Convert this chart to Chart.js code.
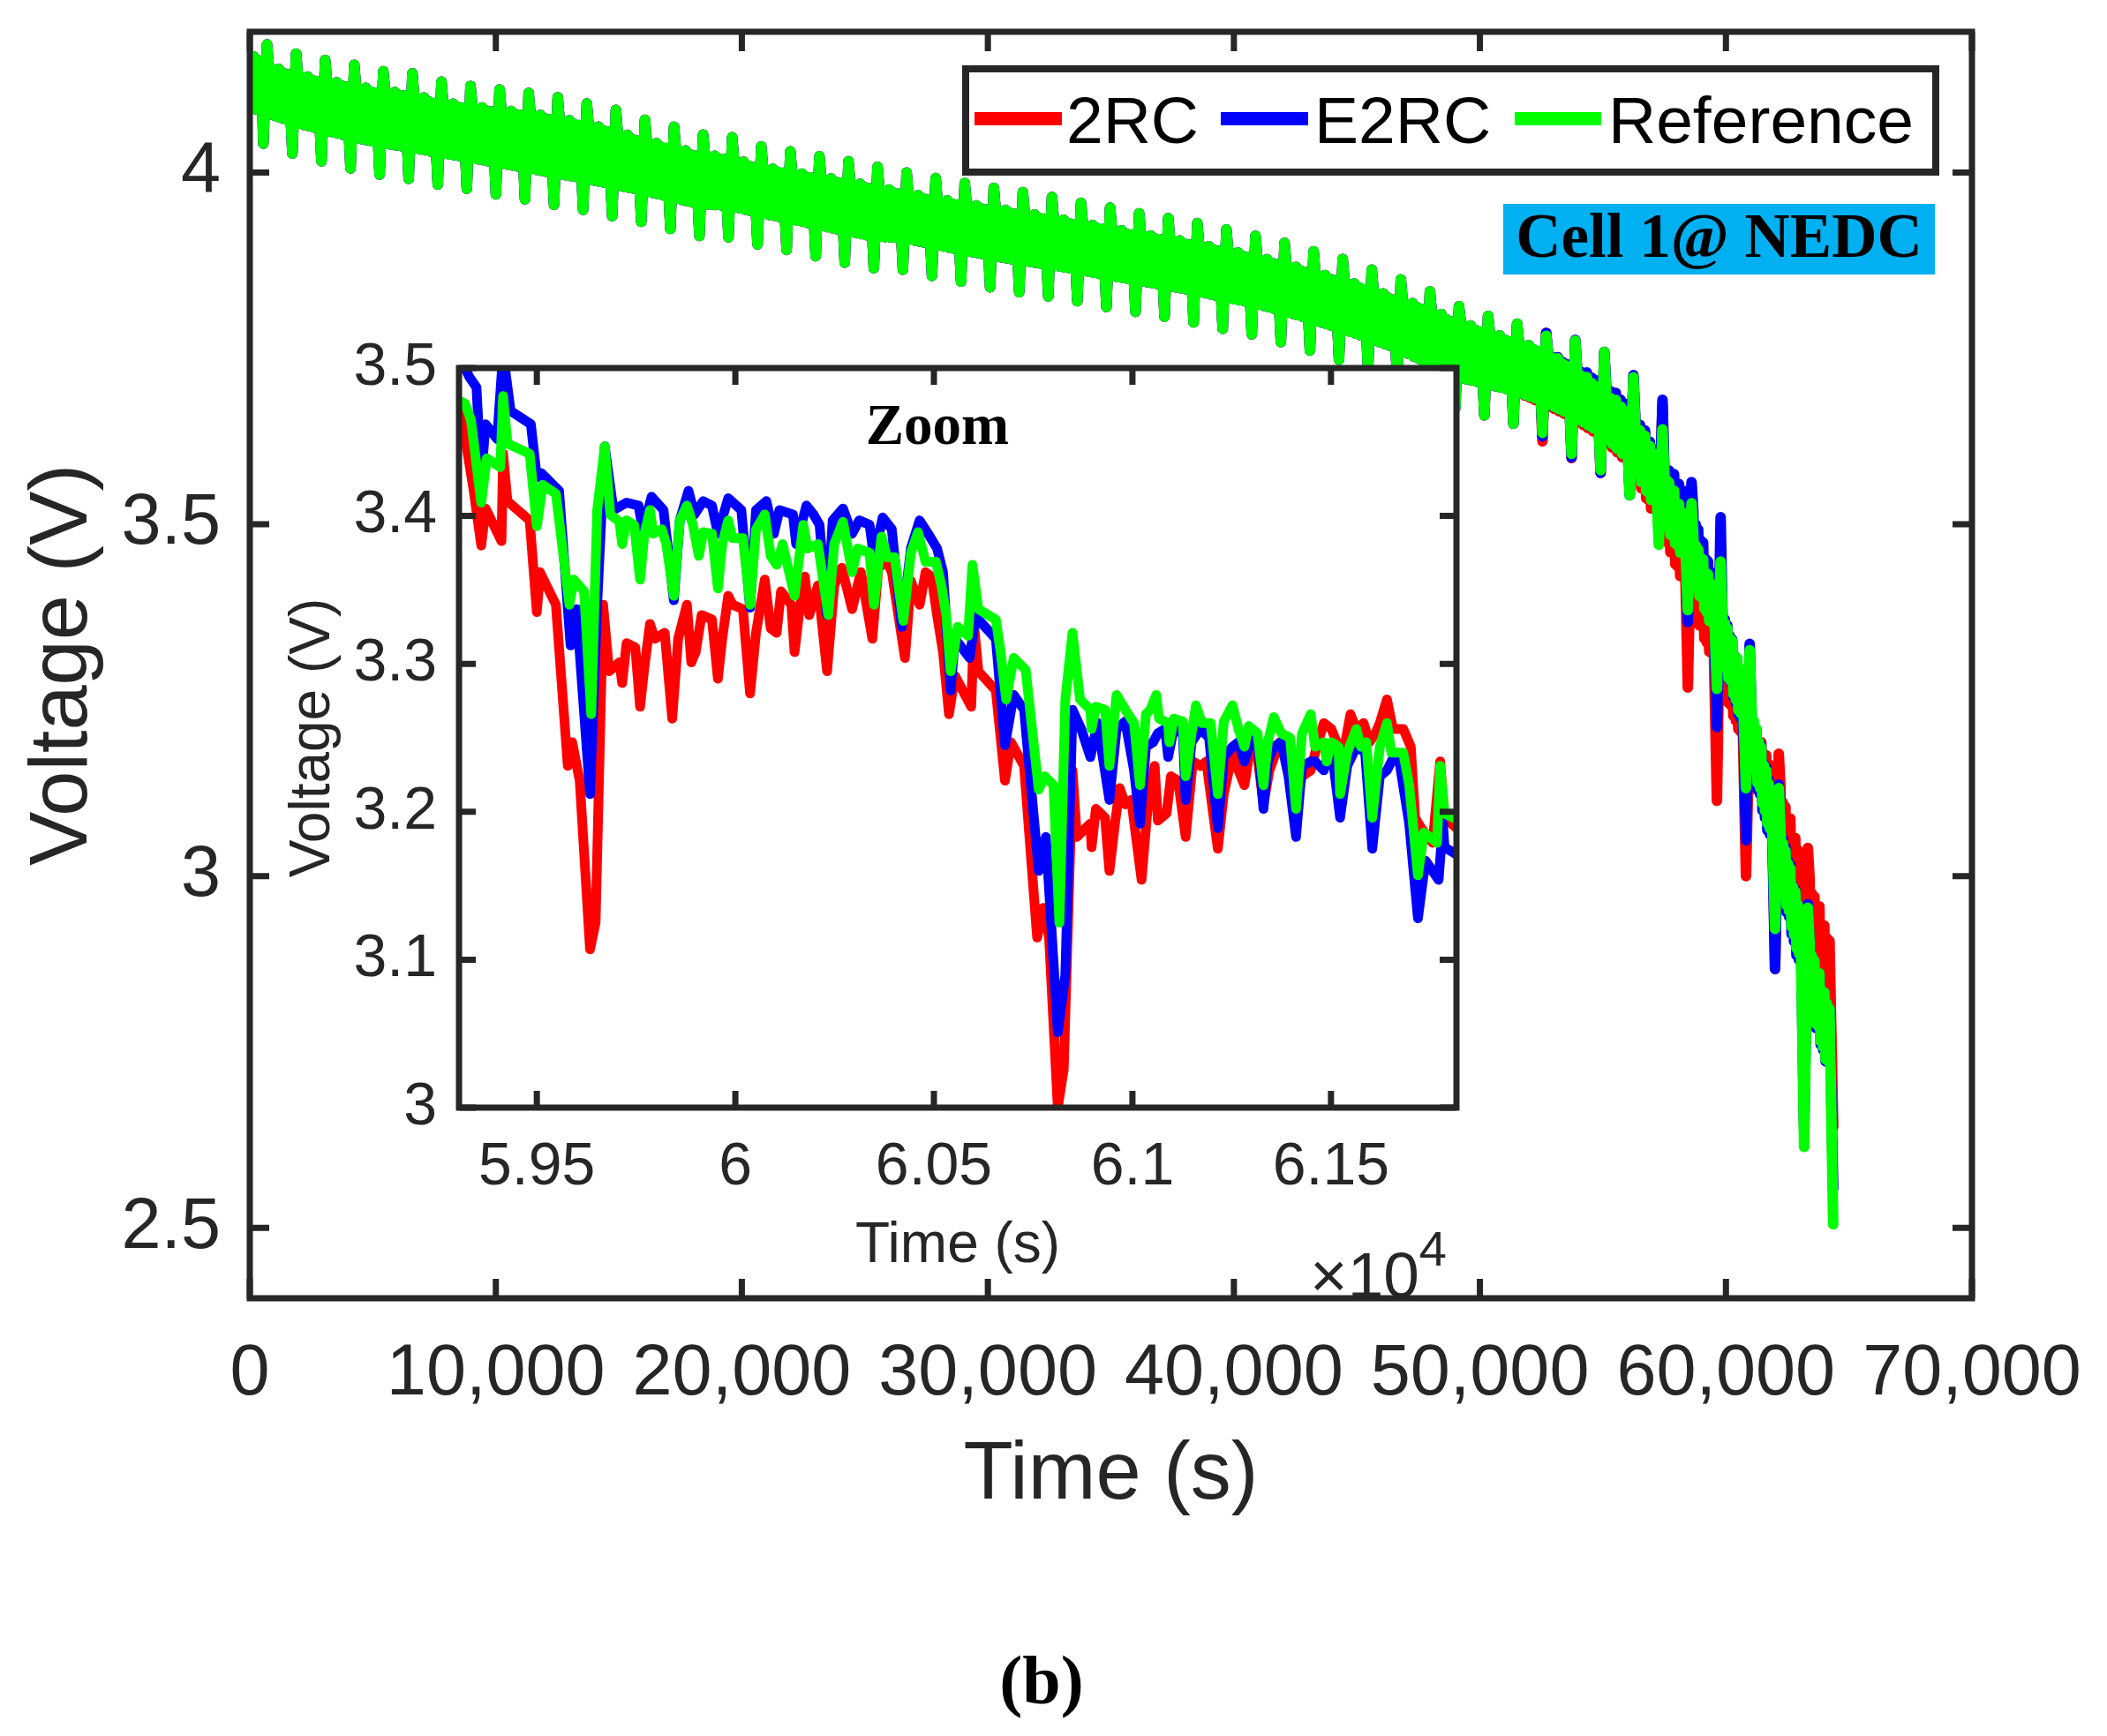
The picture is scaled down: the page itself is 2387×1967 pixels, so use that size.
<!DOCTYPE html>
<html><head><meta charset="utf-8">
<script src="https://cdn.jsdelivr.net/npm/chart.js@4.4.1/dist/chart.umd.min.js"></script>
<style>
html,body{margin:0;padding:0;background:#fff;}
#wrap{position:relative;width:2387px;height:1967px;overflow:hidden;background:#fff;}
canvas{position:absolute;}
.t{position:absolute;white-space:nowrap;line-height:1;}
.sans{font-family:"Liberation Sans",Arial,sans-serif;}
.serif{font-family:"Liberation Serif","Times New Roman",serif;font-weight:bold;}
.ln{position:absolute;height:15px;}
</style></head><body>
<div id="wrap">
<canvas id="main" width="2387" height="1967" style="left:0;top:0;width:2387px;height:1967px"></canvas>
<canvas id="inset" width="1400" height="1100" style="left:300px;top:380px;width:1400px;height:1100px"></canvas>

<div style="position:absolute;left:1090px;top:74px;width:1107px;height:125px;border:8px solid #262626;box-sizing:border-box;background:#fff"></div>
<div class="ln" style="left:1104px;top:127px;width:99px;background:#FF0000"></div>
<div class="t sans" style="left:1208px;top:99px;font-size:75px;color:#000">2RC</div>
<div class="ln" style="left:1383px;top:127px;width:99px;background:#0000FF"></div>
<div class="t sans" style="left:1489px;top:99px;font-size:75px;color:#000">E2RC</div>
<div class="ln" style="left:1716px;top:127px;width:98px;background:#00FF00"></div>
<div class="t sans" style="left:1822px;top:99px;font-size:75px;color:#000">Reference</div>

<div class="serif" style="position:absolute;left:1703px;top:231px;width:489px;height:80px;background:#00B0F0;color:#000;text-align:center;font-size:71px;line-height:72px;white-space:nowrap">Cell 1@ NEDC</div>

<div class="t serif" style="left:900px;top:449px;width:324px;text-align:center;font-size:65px;color:#000">Zoom</div>
<div class="t sans" style="left:1484px;top:1408px;font-size:73px;color:#262626">×10<span style="font-size:56px;position:relative;top:-36px">4</span></div>
<div class="t serif" style="left:1080px;top:1865px;width:200px;text-align:center;font-size:78px;color:#000">(b)</div>
</div>
<script>
// ---------------- tick labels ----------------
const mainXTicks = [0,10000,20000,30000,40000,50000,60000,70000];
const mainXLabels = ['0','10,000','20,000','30,000','40,000','50,000','60,000','70,000'];
const mainYTicks = [2.5,3,3.5,4];
const mainYLabels = ['2.5','3','3.5','4'];
const insetXTicks = [59500,60000,60500,61000,61500];
const insetXLabels = ['5.95','6','6.05','6.1','6.15'];
const insetYTicks = [3,3.1,3.2,3.3,3.4,3.5];
const insetYLabels = ['3','3.1','3.2','3.3','3.4','3.5'];

// ---------------- main plot: NEDC cycles ----------------
const cycleFirstDip = 549;      // s
const cyclePeriod = 1181.7;     // s
const spikeDelay = 150;         // s after the dip
const cyclePhase = [220,270,320,370,420,470,520,570,620,670,720,770,820,870,920,970,1030];
const cycleDepth = [0,1,0.1,0.95,0.05,1,0.1,0.9,0,1,0.15,0.95,0.05,1,0.1,0.9,0.05];
const startTime = [0,80,160,240,320,400,470];
const startVolt = [4.160,4.095,4.165,4.090,4.160,4.092,4.150];

const refSpike = [4.182,4.169,4.160,4.153,4.144,4.141,4.129,4.123,4.118,4.113,
  4.107,4.098,4.089,4.075,4.065,4.054,4.050,4.037,4.030,4.023,
  4.016,4.008,4.000,3.992,3.985,3.978,3.972,3.965,3.957,3.950,
  3.942,3.935,3.928,3.919,3.910,3.900,3.888,3.877,3.862,3.848,
  3.831,3.810,3.796,3.785,3.768,3.761,3.745,3.709,3.635,3.530,
  3.447,3.321,3.125,2.955,2.800];
const refTop = [4.154,4.141,4.132,4.125,4.116,4.113,4.101,4.095,4.090,4.085,
  4.079,4.070,4.061,4.047,4.037,4.026,4.022,4.009,4.002,3.995,
  3.988,3.980,3.972,3.964,3.957,3.950,3.944,3.937,3.929,3.922,
  3.914,3.907,3.900,3.891,3.882,3.872,3.860,3.849,3.836,3.821,
  3.808,3.790,3.776,3.762,3.748,3.725,3.695,3.660,3.595,3.505,
  3.400,3.275,3.100,2.930,2.800];
const refBottom = [4.086,4.072,4.061,4.051,4.042,4.036,4.028,4.022,4.014,4.007,
  3.999,3.992,3.983,3.975,3.965,3.955,3.953,3.943,3.935,3.926,
  3.917,3.909,3.907,3.898,3.890,3.882,3.875,3.869,3.862,3.854,
  3.847,3.840,3.832,3.823,3.815,3.804,3.792,3.779,3.765,3.750,
  3.730,3.710,3.700,3.690,3.675,3.655,3.630,3.590,3.515,3.440,
  3.335,3.200,3.030,2.850,2.700];
const refDip = [4.041,4.027,4.016,4.006,3.997,3.991,3.983,3.977,3.969,3.962,
  3.954,3.947,3.938,3.930,3.920,3.910,3.908,3.898,3.890,3.881,
  3.872,3.864,3.862,3.853,3.845,3.837,3.830,3.824,3.817,3.809,
  3.802,3.795,3.787,3.778,3.770,3.759,3.747,3.734,3.720,3.705,
  3.685,3.665,3.655,3.643,3.630,3.600,3.577,3.541,3.471,3.378,
  3.266,3.125,2.925,2.615,2.505];

// the three models coincide up to cycle 44; the last cycles differ
const tailStart = 44;
const e2rcSpikeTail = [3.772,3.762,3.745,3.712,3.677,3.560,3.510,3.330,3.130,2.960,2.800];
const e2rcTopTail = [3.748,3.728,3.705,3.670,3.600,3.545,3.410,3.270,3.110,2.930,2.800];
const e2rcBottomTail = [3.675,3.655,3.630,3.590,3.520,3.450,3.340,3.190,3.020,2.840,2.700];
const e2rcDipTail = [3.625,3.595,3.573,3.541,3.490,3.361,3.212,3.051,2.868,2.640,2.556];
const rc2SpikeTail = [3.772,3.762,3.745,3.710,3.670,3.520,3.442,3.228,3.174,3.040,2.900];
const rc2TopTail = [3.748,3.728,3.700,3.665,3.600,3.500,3.350,3.235,3.150,3.020,2.900];
const rc2BottomTail = [3.672,3.652,3.625,3.585,3.500,3.400,3.290,3.180,3.050,2.900,2.750];
const rc2DipTail = [3.618,3.594,3.573,3.545,3.490,3.268,3.107,3.000,2.868,2.650,2.644];

// ---------------- inset (zoom) data ----------------
const insetRefTime = [59304,59319,59334,59360,59374,59408,59415,59426,59482,59500,
  59515,59548,59582,59593,59619,59637,59652,59671,59685,59708,
  59715,59726,59745,59760,59771,59785,59793,59815,59826,59845,
  59860,59878,59893,59908,59919,59941,59956,59967,59982,59993,
  60019,60037,60052,60074,60089,60104,60119,60149,60171,60182,
  60208,60234,60249,60271,60294,60308,60338,60349,60368,60382,
  60401,60423,60442,60460,60479,60505,60519,60531,60542,60560,
  60586,60597,60612,60656,60668,60682,60701,60731,60738,60764,
  60779,60801,60816,60831,60849,60868,60894,60897,60908,60931,
  60942,60960,60982,61004,61019,61034,61045,61060,61067,61090,
  61093,61104,61127,61134,61149,61160,61175,61197,61215,61230,
  61252,61267,61282,61293,61315,61330,61341,61356,61375,61397,
  61412,61427,61449,61460,61482,61489,61501,61519,61523,61541,
  61564,61575,61589,61604,61623,61641,61652,61682,61697,61719,
  61734,61767,61775,61786,61823];
const insetRefVolt = [3.478,3.476,3.465,3.409,3.439,3.433,3.481,3.449,3.442,3.393,
  3.421,3.415,3.340,3.357,3.349,3.266,3.404,3.447,3.401,3.396,
  3.381,3.397,3.394,3.357,3.388,3.404,3.388,3.391,3.381,3.346,
  3.397,3.407,3.394,3.373,3.389,3.388,3.351,3.381,3.397,3.385,
  3.385,3.340,3.391,3.401,3.373,3.367,3.381,3.346,3.394,3.378,
  3.381,3.333,3.381,3.396,3.362,3.378,3.375,3.340,3.386,3.372,
  3.372,3.329,3.375,3.389,3.369,3.369,3.353,3.333,3.295,3.325,
  3.319,3.367,3.337,3.330,3.308,3.276,3.304,3.296,3.279,3.215,
  3.224,3.218,3.125,3.276,3.321,3.276,3.269,3.256,3.271,3.269,
  3.231,3.279,3.269,3.260,3.218,3.266,3.269,3.279,3.263,3.260,
  3.247,3.263,3.261,3.224,3.253,3.272,3.260,3.260,3.212,3.261,
  3.272,3.256,3.244,3.258,3.253,3.218,3.247,3.264,3.253,3.250,
  3.202,3.253,3.266,3.244,3.247,3.234,3.247,3.244,3.212,3.240,
  3.256,3.244,3.247,3.196,3.244,3.260,3.240,3.240,3.218,3.157,
  3.186,3.179,3.231,3.199,3.194];

const insetE2rcTime = [59304,59319,59330,59348,59360,59371,59400,59415,59434,59485,
  59500,59511,59556,59585,59600,59634,59652,59671,59693,59726,
  59756,59767,59789,59819,59845,59860,59882,59897,59919,59941,
  59956,59982,60015,60037,60052,60078,60097,60111,60145,
  60153,60179,60197,60212,60231,60245,60271,60294,60312,60338,
  60349,60371,60394,60419,60442,60464,60490,60508,60523,60542,
  60553,60590,60605,60656,60679,60701,60727,60764,60782,60812,
  60831,60849,60871,60894,60912,60942,60960,60982,
  61004,61019,61034,61052,61064,61082,61090,61104,61127,61134,
  61149,61171,61193,61215,61230,61252,61267,61282,61297,61315,
  61330,61341,61356,61375,61393,61412,61427,61449,61460,61482,
  61501,61523,61541,61564,61586,61604,61623,61641,61656,61671,
  61697,61719,61738,61771,61782,61786,61823];
const insetE2rcVolt = [3.505,3.500,3.494,3.487,3.426,3.462,3.452,3.510,3.471,3.462,
  3.426,3.429,3.417,3.3125,3.337,3.212,3.340,3.447,3.404,3.409,
  3.407,3.391,3.413,3.404,3.343,3.397,3.417,3.401,3.410,3.407,
  3.388,3.412,3.404,3.338,3.404,3.410,3.388,3.404,3.401,
  3.381,3.407,3.401,3.394,3.333,3.397,3.405,3.388,3.397,3.394,
  3.372,3.399,3.391,3.325,3.378,3.397,3.386,3.378,3.362,3.282,
  3.317,3.304,3.332,3.317,3.245,3.279,3.269,3.160,3.183,3.051,
  3.090,3.269,3.256,3.237,3.260,3.208,3.256,3.261,
  3.228,3.192,3.244,3.247,3.253,3.256,3.237,3.256,3.253,3.208,
  3.247,3.256,3.250,3.189,3.237,3.244,3.247,3.234,3.247,3.250,
  3.202,3.234,3.244,3.247,3.224,3.183,3.231,3.234,3.234,3.228,
  3.244,3.196,3.231,3.244,3.240,3.175,3.224,3.228,3.236,3.236,
  3.192,3.128,3.167,3.154,3.192,3.176,3.170];

const insetRc2Time = [59304,59326,59341,59360,59371,59411,59415,59426,59482,59500,
  59508,59548,59578,59589,59608,59634,59648,59667,59682,59708,
  59715,59726,59748,59760,59771,59785,59797,59822,59841,59856,
  59878,59889,59900,59915,59941,59956,59967,59982,59993,60019,
  60037,60052,60074,60089,60104,60115,60141,
  60149,60160,60175,60186,60208,60231,60249,60268,60294,60316,
  60345,60360,60382,60394,60427,60442,60464,60479,60494,60508,
  60523,60538,60553,60594,60601,60612,60656,60679,60694,60727,
  60760,60775,60790,60812,60827,60849,60860,60894,60897,60908,
  60931,60942,60956,60968,60982,
  60997,61023,61038,61056,61064,61086,61097,61115,61134,61152,
  61171,61186,61215,61230,61256,61267,61282,61297,61312,61330,
  61345,61371,61386,61412,61427,61449,61464,61482,61501,61519,
  61534,61549,61564,61582,61597,61612,61623,61641,61656,61682,
  61701,61712,61727,61756,61775,61786,61823];
const insetRc2Volt = [3.474,3.442,3.417,3.380,3.405,3.383,3.442,3.410,3.397,3.335,
  3.362,3.340,3.231,3.247,3.221,3.107,3.125,3.340,3.295,3.301,
  3.287,3.314,3.311,3.271,3.298,3.327,3.317,3.321,3.263,3.317,
  3.340,3.301,3.308,3.333,3.330,3.290,3.317,3.346,3.340,3.337,
  3.280,3.321,3.357,3.324,3.321,3.349,3.340,
  3.308,3.333,3.359,3.333,3.353,3.295,3.353,3.365,3.337,3.362,
  3.317,3.365,3.369,3.362,3.304,3.356,3.340,3.362,3.359,3.333,
  3.308,3.266,3.292,3.271,3.327,3.295,3.282,3.221,3.247,3.231,
  3.115,3.135,3.115,3.000,3.026,3.228,3.183,3.192,3.176,3.202,
  3.196,3.160,3.192,3.216,3.205,
  3.208,3.154,3.202,3.231,3.194,3.199,3.224,3.221,3.183,3.234,
  3.231,3.234,3.175,3.212,3.244,3.228,3.218,3.244,3.244,3.205,
  3.228,3.247,3.237,3.205,3.224,3.228,3.244,3.260,3.256,3.244,
  3.244,3.266,3.256,3.260,3.247,3.253,3.260,3.276,3.256,3.256,
  3.244,3.196,3.189,3.179,3.234,3.196,3.1875];

// ---------------- helpers ----------------
function withTail(head, tail) { return head.slice(0, tailStart).concat(tail); }

function buildMain(spike, top, bottom, dip) {
  const pts = [];
  for (let i = 0; i < startTime.length; i++) pts.push({x: startTime[i], y: startVolt[i]});
  const n = dip.length;
  for (let k = 0; k < n; k++) {
    const t0 = cycleFirstDip + cyclePeriod * k;
    pts.push({x: t0, y: dip[k]});
    if (k === n - 1) break;
    pts.push({x: t0 + spikeDelay, y: spike[k]});
    for (let j = 0; j < cyclePhase.length; j++) {
      const f = cyclePhase[j] / cyclePeriod;
      const tp = top[k] + (top[k + 1] - top[k]) * f;
      const bt = bottom[k] + (bottom[k + 1] - bottom[k]) * f;
      pts.push({x: t0 + cyclePhase[j], y: tp - cycleDepth[j] * (tp - bt)});
    }
  }
  return pts;
}
function pairs(t, v) {
  const n = Math.min(t.length, v.length), out = [];
  for (let i = 0; i < n; i++) out.push({x: t[i], y: v[i]});
  return out;
}

const mainRef = buildMain(refSpike, refTop, refBottom, refDip);
const mainE2rc = buildMain(withTail(refSpike, e2rcSpikeTail), withTail(refTop, e2rcTopTail),
                           withTail(refBottom, e2rcBottomTail), withTail(refDip, e2rcDipTail));
const mainRc2 = buildMain(withTail(refSpike, rc2SpikeTail), withTail(refTop, rc2TopTail),
                          withTail(refBottom, rc2BottomTail), withTail(refDip, rc2DipTail));

const AXIS = '#262626';
const framePlugin = {
  id: 'frame',
  beforeDatasetsDraw(chart, args, o) {
    if (!o.fill) return;
    const a = chart.chartArea, ctx = chart.ctx;
    ctx.save(); ctx.fillStyle = '#ffffff';
    ctx.fillRect(a.left, a.top, a.right - a.left, a.bottom - a.top);
    ctx.restore();
  },
  afterDatasetsDraw(chart, args, o) {
    const a = chart.chartArea, ctx = chart.ctx, sx = chart.scales.x, sy = chart.scales.y;
    ctx.save();
    ctx.strokeStyle = AXIS; ctx.lineWidth = o.width; ctx.lineCap = 'butt';
    ctx.beginPath();
    sx.ticks.forEach(t => {
      const p = sx.getPixelForValue(t.value);
      ctx.moveTo(p, a.bottom); ctx.lineTo(p, a.bottom - o.len);
      ctx.moveTo(p, a.top); ctx.lineTo(p, a.top + o.len);
    });
    sy.ticks.forEach(t => {
      const p = sy.getPixelForValue(t.value);
      ctx.moveTo(a.left, p); ctx.lineTo(a.left + o.len, p);
      ctx.moveTo(a.right, p); ctx.lineTo(a.right - o.len, p);
    });
    ctx.stroke();
    ctx.lineJoin = 'miter';
    ctx.strokeRect(a.left, a.top, a.right - a.left, a.bottom - a.top);
    ctx.restore();
  }
};

// order: lower value is drawn on top (Reference on top, then E2RC, then 2RC)
function ds(label, data, color, width, order) {
  return {label, data, borderColor: color, backgroundColor: color, borderWidth: width,
    pointRadius: 0, pointHoverRadius: 0, fill: false, tension: 0, order: order,
    borderCapStyle: 'round', borderJoinStyle: 'round', clip: 0};
}
const SANS = '"Liberation Sans", Arial, sans-serif';

new Chart(document.getElementById('main'), {
  type: 'line',
  data: {datasets: [
    ds('2RC', mainRc2, '#FF0000', 12, 3),
    ds('E2RC', mainE2rc, '#0000FF', 12, 2),
    ds('Reference', mainRef, '#00FF00', 12, 1)
  ]},
  options: {
    responsive: false, animation: false, devicePixelRatio: 1, events: [],
    layout: {padding: {left: 0, top: 36, right: 153, bottom: 0}},
    plugins: {legend: {display: false}, tooltip: {enabled: false}, frame: {width: 7, len: 22, fill: false}},
    scales: {
      x: {type: 'linear', min: 0, max: 70000,
        grid: {display: false, drawTicks: false}, border: {display: false},
        afterBuildTicks: s => { s.ticks = mainXTicks.map(v => ({value: v})); },
        afterFit: s => { s.height = 496; s.paddingLeft = 0; s.paddingRight = 0; },
        ticks: {autoSkip: false, maxRotation: 0, minRotation: 0, padding: 38, color: AXIS,
          font: {family: SANS, size: 81}, callback: (v, i) => mainXLabels[i]},
        title: {display: true, text: 'Time (s)', color: AXIS, font: {family: SANS, size: 92},
          padding: {top: 0, bottom: 239}}},
      y: {type: 'linear', min: 2.4, max: 4.2,
        grid: {display: false, drawTicks: false}, border: {display: false},
        afterBuildTicks: s => { s.ticks = mainYTicks.map(v => ({value: v})); },
        afterFit: s => { s.width = 283; s.paddingTop = 0; s.paddingBottom = 0; },
        ticks: {autoSkip: false, padding: 33, color: AXIS,
          font: {family: SANS, size: 81}, callback: (v, i) => mainYLabels[i]},
        title: {display: true, text: 'Voltage (V)', color: AXIS, font: {family: SANS, size: 92},
          padding: {top: 17, bottom: 0}}}
    }
  },
  plugins: [framePlugin]
});

new Chart(document.getElementById('inset'), {
  type: 'line',
  data: {datasets: [
    ds('2RC', pairs(insetRc2Time, insetRc2Volt), '#FF0000', 11, 3),
    ds('E2RC', pairs(insetE2rcTime, insetE2rcVolt), '#0000FF', 11, 2),
    ds('Reference', pairs(insetRefTime, insetRefVolt), '#00FF00', 11, 1)
  ]},
  options: {
    responsive: false, animation: false, devicePixelRatio: 1, events: [],
    layout: {padding: {left: 0, top: 37, right: 50, bottom: 0}},
    plugins: {legend: {display: false}, tooltip: {enabled: false}, frame: {width: 7, len: 19, fill: true}},
    scales: {
      x: {type: 'linear', min: 59304, max: 61816,
        grid: {display: false, drawTicks: false}, border: {display: false},
        afterBuildTicks: s => { s.ticks = insetXTicks.map(v => ({value: v})); },
        afterFit: s => { s.height = 225; s.paddingLeft = 0; s.paddingRight = 0; },
        ticks: {autoSkip: false, maxRotation: 0, minRotation: 0, padding: 27, color: AXIS,
          font: {family: SANS, size: 68}, callback: (v, i) => insetXLabels[i]},
        title: {display: true, text: 'Time (s)', color: AXIS, font: {family: SANS, size: 64},
          padding: {top: 0, bottom: 29}}},
      y: {type: 'linear', min: 3.0, max: 3.5,
        grid: {display: false, drawTicks: false}, border: {display: false},
        afterBuildTicks: s => { s.ticks = insetYTicks.map(v => ({value: v})); },
        afterFit: s => { s.width = 220; s.paddingTop = 0; s.paddingBottom = 0; },
        ticks: {autoSkip: false, padding: 25, color: AXIS,
          font: {family: SANS, size: 68}, callback: (v, i) => insetYLabels[i]},
        title: {display: true, text: 'Voltage (V)', color: AXIS, font: {family: SANS, size: 64},
          padding: {top: 17, bottom: 0}}}
    }
  },
  plugins: [framePlugin]
});
</script>
</body></html>
